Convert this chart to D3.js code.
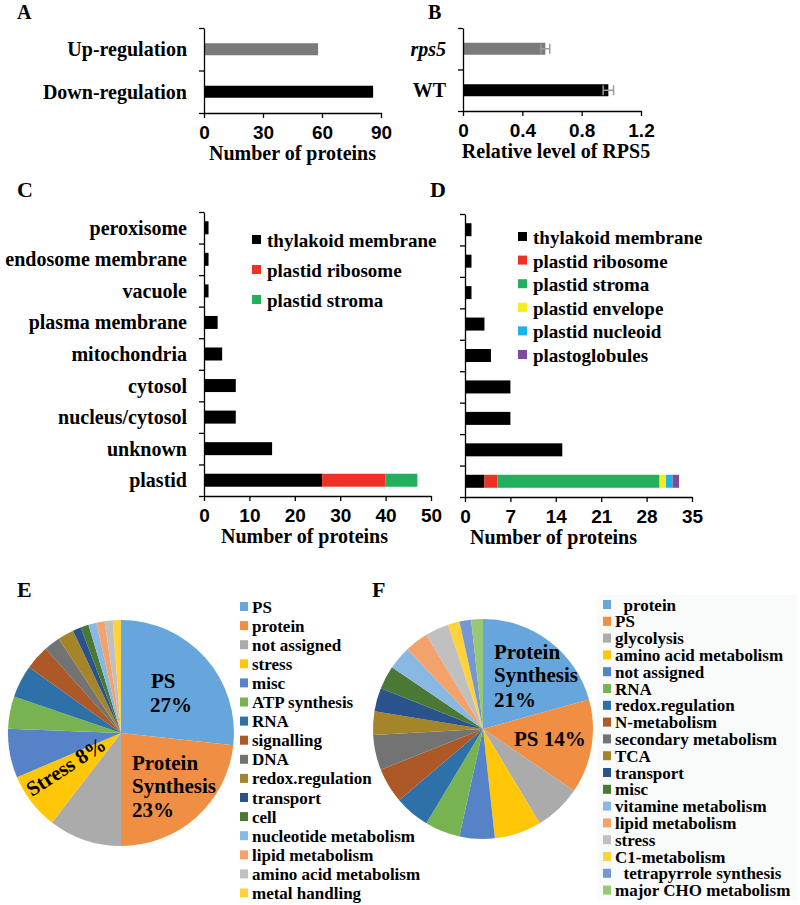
<!DOCTYPE html>
<html>
<head>
<meta charset="utf-8">
<script src="https://cdn.jsdelivr.net/npm/d3@7/dist/d3.min.js"></script>
<style>
  body { margin: 0; background: #fff; }
  svg { font-family: 'Liberation Serif', 'Times New Roman', serif; font-weight: bold; }
</style>
</head>
<body>
<div id="figure"></div>
<script>
// Panel A - number of regulated proteins
var regulationLabels = ['Up-regulation', 'Down-regulation'];
var regulationCounts = [58, 86];
var regulationTicks = [0, 30, 60, 90];

// Panel B - relative RPS5 level
var genotypeLabels = ['rps5', 'WT'];
var rps5Levels = [0.555, 0.98];
var rps5Errors = [0.03, 0.035];
var levelTicks = [0, 0.4, 0.8, 1.2];

// Panels C and D - subcellular location
var locations = ['peroxisome', 'endosome membrane', 'vacuole', 'plasma membrane',
  'mitochondria', 'cytosol', 'nucleus/cytosol', 'unknown', 'plastid'];
var seriesC = ['thylakoid membrane', 'plastid ribosome', 'plastid stroma'];
var thylakoidC = [1, 1, 1, 3, 4, 7, 7, 15, 26];
var ribosomeC = [0, 0, 0, 0, 0, 0, 0, 0, 14];
var stromaC = [0, 0, 0, 0, 0, 0, 0, 0, 7];
var ticksC = [0, 10, 20, 30, 40, 50];

var seriesD = ['thylakoid membrane', 'plastid ribosome', 'plastid stroma',
  'plastid envelope', 'plastid nucleoid', 'plastoglobules'];
var thylakoidD = [1, 1, 1, 3, 4, 7, 7, 15, 3];
var ribosomeD = [0, 0, 0, 0, 0, 0, 0, 0, 2];
var stromaD = [0, 0, 0, 0, 0, 0, 0, 0, 25];
var envelopeD = [0, 0, 0, 0, 0, 0, 0, 0, 1];
var nucleoidD = [0, 0, 0, 0, 0, 0, 0, 0, 1];
var globulesD = [0, 0, 0, 0, 0, 0, 0, 0, 1];
var ticksD = [0, 7, 14, 21, 28, 35];

// Panel E - functional categories (down-regulated)
var categoriesE = ['PS', 'protein', 'not assigned', 'stress', 'misc', 'ATP synthesis', 'RNA',
  'signalling', 'DNA', 'redox.regulation', 'transport', 'cell', 'nucleotide metabolism',
  'lipid metabolism', 'amino acid metabolism', 'metal handling'];
var countsE = [23, 20, 9, 7, 6, 4, 4, 3, 2, 2, 1, 1, 1, 1, 1, 1];

// Panel F - functional categories (up-regulated)
var categoriesF = ['  protein', 'PS', 'glycolysis', 'amino acid metabolism', 'not assigned', 'RNA',
  'redox.regulation', 'N-metabolism', 'secondary metabolism', 'TCA', 'transport', 'misc',
  'vitamine metabolism', 'lipid metabolism', 'stress', 'C1-metabolism',
  '  tetrapyrrole synthesis', 'major CHO metabolism'];
var countsF = [12, 8, 4, 4, 3, 3, 3, 3, 3, 2, 2, 2, 2, 2, 2, 1, 1, 1];

var stackColors = ['#000000', '#EE3124', '#22B05E', '#F5EC1C', '#1BB4EA', '#7E4A9D'];
var pieColors = ['#66A6DC', '#F08F43', '#ABABAB', '#FFC708', '#5683C8', '#78B352',
  '#2D71A8', '#AD5827', '#737373', '#A5852A', '#2A538D', '#4A7936',
  '#89B9E2', '#F3A26B', '#C0C0C0', '#FFD23B', '#7598D5', '#96C875'];

var svg = d3.select('#figure')
  .append('svg')
  .attr('width', 800)
  .attr('height', 905);

function panelLetter(letter, x, y, size) {
  svg.append('text')
    .attr('x', x)
    .attr('y', y)
    .attr('font-size', size)
    .text(letter);
}

// Horizontal (stacked) bar chart
function barPanel(cfg) {
  var n = cfg.categories.length;
  var x = d3.scaleLinear().domain([0, cfg.max]).range([cfg.left, cfg.right]);
  var y = d3.scaleBand().domain(cfg.categories).range([cfg.top, cfg.bottom]);
  var edges = d3.scaleLinear().domain([0, n]).range([cfg.top, cfg.bottom]);

  var rows = cfg.categories.map(function(c, i) {
    var row = { category: c };
    cfg.keys.forEach(function(k, j) { row[k] = cfg.values[j][i]; });
    return row;
  });
  var stacked = d3.stack().keys(cfg.keys)(rows);

  var g = svg.append('g');
  g.selectAll('g.layer')
    .data(stacked)
    .enter().append('g')
    .attr('fill', function(d, i) { return cfg.colors[i]; })
    .selectAll('rect')
    .data(function(d) { return d; })
    .enter().append('rect')
    .attr('x', function(d) { return x(d[0]); })
    .attr('width', function(d) { return x(d[1]) - x(d[0]); })
    .attr('y', function(d) { return y(d.data.category) + (y.bandwidth() - cfg.barSize) / 2; })
    .attr('height', cfg.barSize)
    .attr('fill', function(d, i) { return cfg.barColors ? cfg.barColors[i] : null; });

  // Error bars
  if (cfg.errors) {
    var eb = g.selectAll('g.err')
      .data(rows)
      .enter().append('g')
      .attr('stroke', '#9a9a9a')
      .attr('stroke-width', 1.5);
    eb.append('line')
      .attr('x1', function(d, i) { return x(d[cfg.keys[0]] - cfg.errors[i]); })
      .attr('x2', function(d, i) { return x(d[cfg.keys[0]] + cfg.errors[i]); })
      .attr('y1', function(d) { return y(d.category) + y.bandwidth() / 2; })
      .attr('y2', function(d) { return y(d.category) + y.bandwidth() / 2; });
    [-1, 1].forEach(function(s) {
      eb.append('line')
        .attr('x1', function(d, i) { return x(d[cfg.keys[0]] + s * cfg.errors[i]); })
        .attr('x2', function(d, i) { return x(d[cfg.keys[0]] + s * cfg.errors[i]); })
        .attr('y1', function(d) { return y(d.category) + y.bandwidth() / 2 - 5; })
        .attr('y2', function(d) { return y(d.category) + y.bandwidth() / 2 + 5; });
    });
  }

  // Y axis with ticks between categories
  g.append('g')
    .attr('transform', 'translate(' + cfg.left + ',0)')
    .call(d3.axisLeft(edges).tickValues(d3.range(n + 1)).tickFormat('').tickSize(5).tickSizeOuter(0))
    .call(function(a) { a.selectAll('path, line').attr('stroke', '#000').attr('stroke-width', 1.3); });

  // X axis
  g.append('g')
    .attr('transform', 'translate(0,' + cfg.bottom + ')')
    .call(d3.axisBottom(x).tickValues(cfg.ticks).tickFormat(function(d) { return d; })
      .tickSize(5).tickSizeOuter(0).tickPadding(8))
    .call(function(a) {
      a.selectAll('path, line').attr('stroke', '#000').attr('stroke-width', 1.3);
      a.selectAll('text').attr('font-size', 19).attr('font-family', null).attr('fill', '#000');
    });

  // Category labels
  if (cfg.showLabels) {
    g.selectAll('text.cat')
      .data(cfg.categories)
      .enter().append('text')
      .attr('x', cfg.left - 17)
      .attr('y', function(d) { return y(d) + y.bandwidth() / 2; })
      .attr('dy', '0.35em')
      .attr('text-anchor', 'end')
      .attr('font-size', cfg.labelSize)
      .attr('font-style', function(d) { return d === 'rps5' ? 'italic' : null; })
      .text(function(d) { return d; });
  }

  // Axis title
  g.append('text')
    .attr('x', (cfg.left + cfg.right) / 2 + cfg.titleShift)
    .attr('y', cfg.bottom + 47)
    .attr('text-anchor', 'middle')
    .attr('font-size', 20)
    .text(cfg.title);

  // Legend
  if (cfg.legend) {
    var lg = g.selectAll('g.leg')
      .data(cfg.keys)
      .enter().append('g')
      .attr('transform', function(d, i) {
        return 'translate(' + cfg.legend.x + ',' + (cfg.legend.y + i * cfg.legend.step) + ')';
      });
    lg.append('rect')
      .attr('x', 0)
      .attr('y', -5)
      .attr('width', 9)
      .attr('height', 9)
      .attr('fill', function(d, i) { return cfg.colors[i]; });
    lg.append('text')
      .attr('x', 15)
      .attr('y', 7)
      .attr('font-size', 19)
      .text(function(d) { return d; });
  }
}

// Pie chart with legend
function piePanel(cfg) {
  var pie = d3.pie().sort(null);
  var arc = d3.arc().innerRadius(0).outerRadius(cfg.r);
  var g = svg.append('g');

  if (cfg.legendBox) {
    g.append('rect')
      .attr('x', cfg.legendBox[0])
      .attr('y', cfg.legendBox[1])
      .attr('width', cfg.legendBox[2])
      .attr('height', cfg.legendBox[3])
      .attr('fill', '#f9fafa');
  }

  g.append('g')
    .attr('transform', 'translate(' + cfg.cx + ',' + cfg.cy + ')')
    .selectAll('path')
    .data(pie(cfg.values))
    .enter().append('path')
    .attr('d', arc)
    .attr('fill', function(d, i) { return pieColors[i]; });

  var lg = g.selectAll('g.leg')
    .data(cfg.names)
    .enter().append('g')
    .attr('transform', function(d, i) {
      return 'translate(' + cfg.lx + ',' + (cfg.ly + i * cfg.step) + ')';
    });
  lg.append('rect')
    .attr('x', 0)
    .attr('y', -4.5)
    .attr('width', 8)
    .attr('height', 9)
    .attr('fill', function(d, i) { return pieColors[i]; });
  lg.append('text')
    .attr('x', 12)
    .attr('y', 6)
    .attr('font-size', 17)
    .attr('xml:space', 'preserve')
    .style('white-space', 'pre')
    .text(function(d) { return d; });

  cfg.labels.forEach(function(l) {
    g.append('text')
      .attr('transform', 'translate(' + l.x + ',' + l.y + ') rotate(' + (l.rotate || 0) + ')')
      .attr('font-size', 21)
      .text(l.text);
  });
}

panelLetter('A', 17, 19, 20);
barPanel({
  categories: regulationLabels, keys: ['count'], values: [regulationCounts],
  colors: ['#000'], barColors: ['#7a7a7a', '#000'],
  max: 90, ticks: regulationTicks, left: 204, right: 381, top: 28, bottom: 113,
  barSize: 12, showLabels: true, labelSize: 20, title: 'Number of proteins', titleShift: 0
});

panelLetter('B', 428, 19, 20);
barPanel({
  categories: genotypeLabels, keys: ['level'], values: [rps5Levels], errors: rps5Errors,
  colors: ['#000'], barColors: ['#7a7a7a', '#000'],
  max: 1.2, ticks: levelTicks, left: 463, right: 641, top: 28, bottom: 111,
  barSize: 12, showLabels: true, labelSize: 20, title: 'Relative level of RPS5', titleShift: 4
});

panelLetter('C', 17, 197, 22);
barPanel({
  categories: locations, keys: seriesC, values: [thylakoidC, ribosomeC, stromaC],
  colors: stackColors, max: 50, ticks: ticksC, left: 204, right: 431, top: 212, bottom: 496,
  barSize: 13, showLabels: true, labelSize: 20, title: 'Number of proteins', titleShift: -13,
  legend: { x: 252, y: 240, step: 30 }
});

panelLetter('D', 430, 197, 22);
barPanel({
  categories: locations, keys: seriesD,
  values: [thylakoidD, ribosomeD, stromaD, envelopeD, nucleoidD, globulesD],
  colors: stackColors, max: 35, ticks: ticksD, left: 465, right: 692, top: 214, bottom: 497,
  barSize: 13, showLabels: false, title: 'Number of proteins', titleShift: -25,
  legend: { x: 518, y: 237, step: 23.6 }
});

panelLetter('E', 17, 597, 22);
piePanel({
  names: categoriesE, values: countsE, cx: 121, cy: 733, r: 113,
  lx: 240, ly: 606.5, step: 19.1,
  labels: [
    { text: 'PS', x: 151, y: 688 },
    { text: '27%', x: 150, y: 712 },
    { text: 'Protein', x: 132, y: 770 },
    { text: 'Synthesis', x: 132, y: 793 },
    { text: '23%', x: 132, y: 817 },
    { text: 'Stress 8%', x: 32, y: 797, rotate: -33 }
  ]
});

panelLetter('F', 372, 597, 22);
piePanel({
  names: categoriesF, values: countsF, cx: 483, cy: 729, r: 110,
  lx: 603, ly: 604.5, step: 16.8, legendBox: [597, 595, 200, 305],
  labels: [
    { text: 'Protein', x: 494, y: 659 },
    { text: 'Synthesis', x: 494, y: 682 },
    { text: '21%', x: 494, y: 707 },
    { text: 'PS 14%', x: 514, y: 746 }
  ]
});
</script>
</body>
</html>
